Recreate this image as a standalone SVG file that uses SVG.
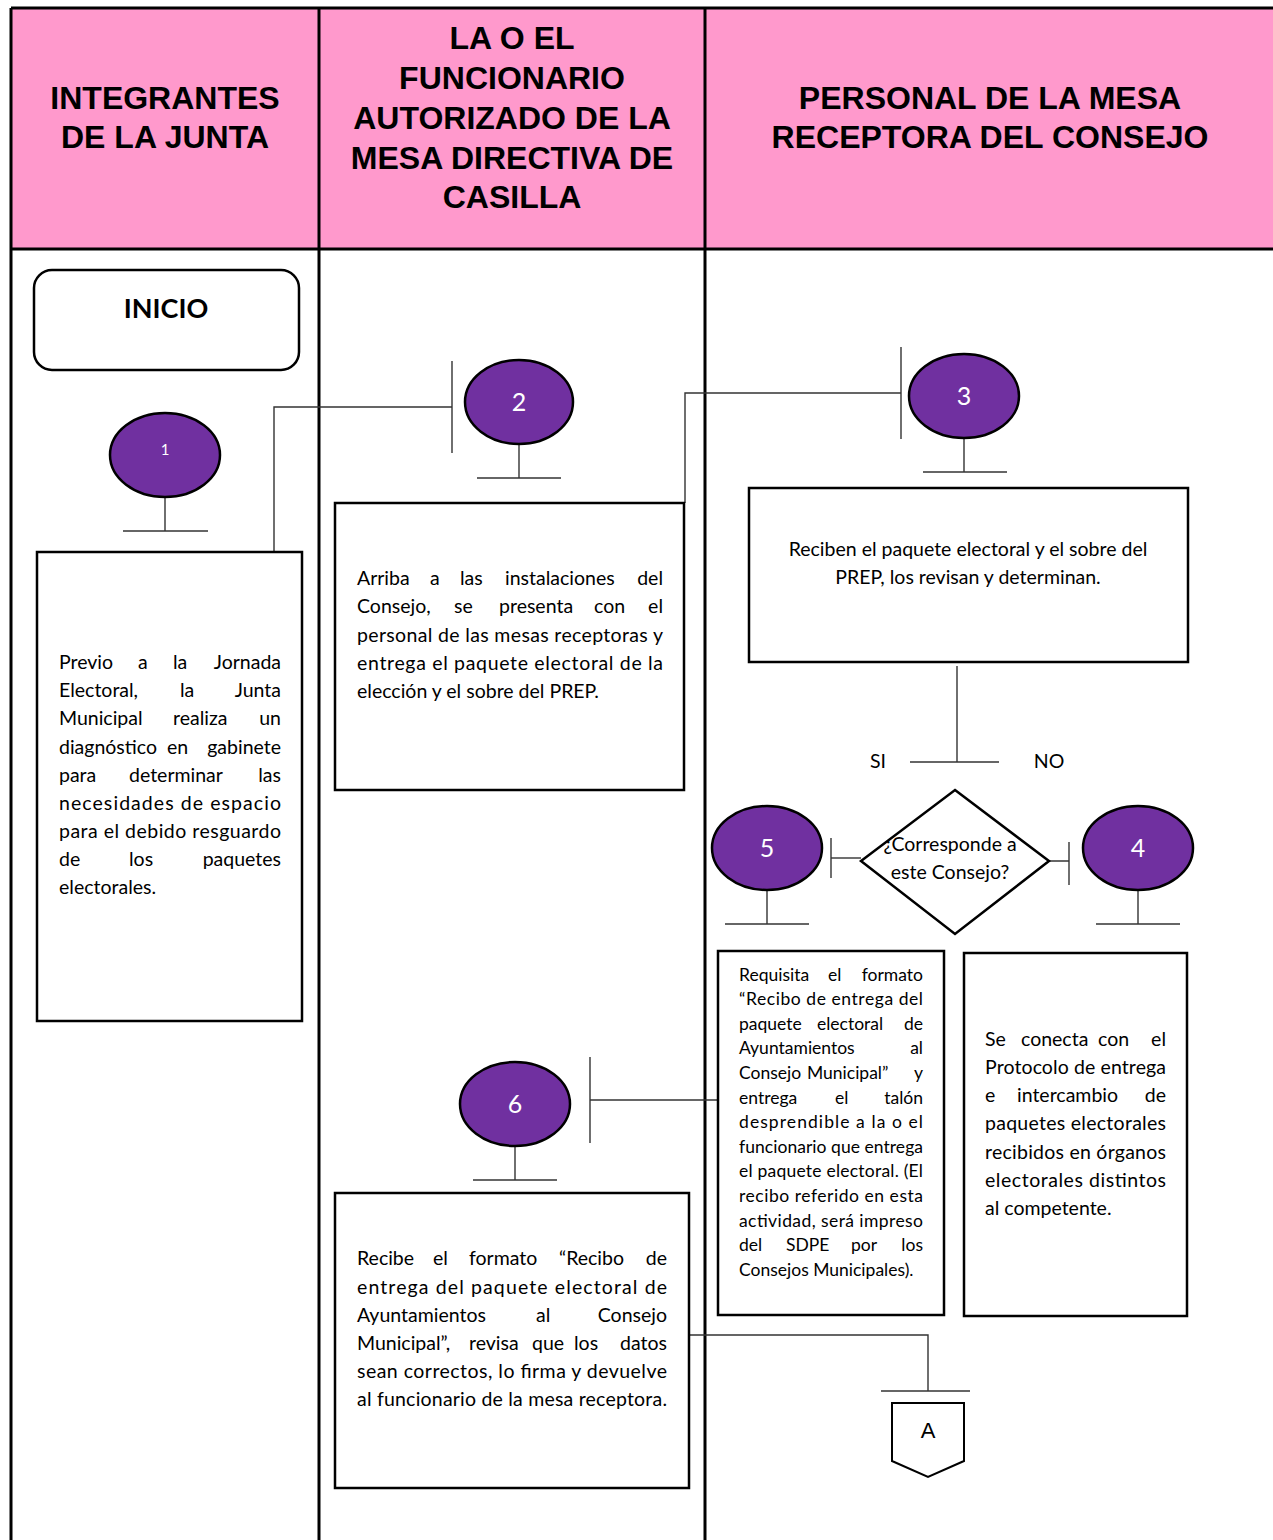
<svg xmlns="http://www.w3.org/2000/svg" width="1273" height="1540" viewBox="0 0 1273 1540">
<style>
.hdr{font-family:"Liberation Sans",Arial,sans-serif;font-weight:bold;font-size:32px;fill:#000;text-anchor:middle}
.t{font-family:Lato,"Liberation Sans",sans-serif;font-size:19.5px;fill:#000}
.ts{font-family:Lato,"Liberation Sans",sans-serif;font-size:17.5px;fill:#000}
.c{text-anchor:middle}
.box{fill:#fff;stroke:#000;stroke-width:2.5}
.circ{fill:#7030A0;stroke:#000;stroke-width:2.5}
.num{font-family:Lato,"Liberation Sans",sans-serif;font-size:25px;fill:#fff;text-anchor:middle}
.ln{fill:none;stroke:#333;stroke-width:1.4}
.lane{fill:none;stroke:#000;stroke-width:3}
</style>
<rect width="1273" height="1540" fill="#fff"/>
<g id="lanes">
<rect x="11" y="8" width="1270" height="241" fill="#FF99CC"/>
<line class="lane" x1="11" y1="8" x2="1273" y2="8"/>
<line class="lane" x1="11" y1="249" x2="1273" y2="249"/>
<line class="lane" x1="11" y1="8" x2="11" y2="1540"/>
<line class="lane" x1="319" y1="8" x2="319" y2="1540"/>
<line class="lane" x1="705" y1="8" x2="705" y2="1540"/>
<text class="hdr" x="165" y="109">INTEGRANTES</text>
<text class="hdr" x="165" y="148">DE LA JUNTA</text>
<text class="hdr" x="512" y="49">LA O EL</text>
<text class="hdr" x="512" y="89">FUNCIONARIO</text>
<text class="hdr" x="512" y="129">AUTORIZADO DE LA</text>
<text class="hdr" x="512" y="169">MESA DIRECTIVA DE</text>
<text class="hdr" x="512" y="208">CASILLA</text>
<text class="hdr" x="990" y="109">PERSONAL DE LA MESA</text>
<text class="hdr" x="990" y="148">RECEPTORA DEL CONSEJO</text>
</g>
<g id="connectors">
<line class="ln" x1="165" y1="497" x2="165" y2="531"/>
<line class="ln" x1="123" y1="531" x2="208" y2="531"/>
<polyline class="ln" points="274,552 274,407 452,407"/>
<line class="ln" x1="452" y1="361" x2="452" y2="453"/>
<line class="ln" x1="519" y1="444" x2="519" y2="478"/>
<line class="ln" x1="477" y1="478" x2="561" y2="478"/>
<polyline class="ln" points="685,503 685,393 901,393"/>
<line class="ln" x1="901" y1="347" x2="901" y2="439"/>
<line class="ln" x1="964" y1="438" x2="964" y2="472"/>
<line class="ln" x1="923" y1="472" x2="1007" y2="472"/>
<line class="ln" x1="957" y1="666" x2="957" y2="762"/>
<line class="ln" x1="910" y1="762" x2="999" y2="762"/>
<line class="ln" x1="831" y1="858" x2="861" y2="858"/>
<line class="ln" x1="831" y1="838" x2="831" y2="878"/>
<line class="ln" x1="1032" y1="861" x2="1069" y2="861"/>
<line class="ln" x1="1069" y1="842" x2="1069" y2="885"/>
<line class="ln" x1="767" y1="890" x2="767" y2="924"/>
<line class="ln" x1="725" y1="924" x2="809" y2="924"/>
<line class="ln" x1="1138" y1="890" x2="1138" y2="924"/>
<line class="ln" x1="1096" y1="924" x2="1180" y2="924"/>
<line class="ln" x1="718" y1="1100" x2="590" y2="1100"/>
<line class="ln" x1="590" y1="1057" x2="590" y2="1143"/>
<line class="ln" x1="515" y1="1146" x2="515" y2="1180"/>
<line class="ln" x1="473" y1="1180" x2="557" y2="1180"/>
<polyline class="ln" points="689,1335 928,1335 928,1391"/>
<line class="ln" x1="881" y1="1391" x2="970" y2="1391"/>
</g>
<g id="inicio">
<rect x="34" y="270" width="265" height="100" rx="18" fill="#fff" stroke="#000" stroke-width="2.5"/>
<text x="166" y="318" font-family="Lato,'Liberation Sans',sans-serif" font-weight="bold" font-size="27" text-anchor="middle">INICIO</text>
</g>
<g id="c1"><ellipse class="circ" cx="165" cy="455" rx="55" ry="42"/><text class="num" x="165" y="455" style="font-size:15px">1</text></g>
<g id="c2"><ellipse class="circ" cx="519" cy="402" rx="54" ry="42"/><text class="num" x="519" y="411">2</text></g>
<g id="c3"><ellipse class="circ" cx="964" cy="396" rx="55" ry="42"/><text class="num" x="964" y="405">3</text></g>
<g id="c5"><ellipse class="circ" cx="767" cy="848" rx="55" ry="42"/><text class="num" x="767" y="857">5</text></g>
<g id="c4"><ellipse class="circ" cx="1138" cy="848" rx="55" ry="42"/><text class="num" x="1138" y="857">4</text></g>
<g id="c6"><ellipse class="circ" cx="515" cy="1104" rx="55" ry="42"/><text class="num" x="515" y="1113">6</text></g>
<g id="box1">
<rect class="box" x="37" y="552" width="265" height="469"/>
<text class="t" y="669"><tspan x="59">Previo</tspan><tspan x="138">a</tspan><tspan x="173">la</tspan><tspan x="281" text-anchor="end">Jornada</tspan></text>
<text class="t" y="697"><tspan x="59">Electoral,</tspan><tspan x="180">la</tspan><tspan x="281" text-anchor="end">Junta</tspan></text>
<text class="t" y="725"><tspan x="59">Municipal</tspan><tspan x="173">realiza</tspan><tspan x="281" text-anchor="end">un</tspan></text>
<text class="t" y="754"><tspan x="59">diagnóstico</tspan><tspan x="167">en</tspan><tspan x="281" text-anchor="end">gabinete</tspan></text>
<text class="t" y="782"><tspan x="59">para</tspan><tspan x="129">determinar</tspan><tspan x="281" text-anchor="end">las</tspan></text>
<text class="t" x="59" y="810" textLength="222" lengthAdjust="spacing">necesidades de espacio</text>
<text class="t" x="59" y="838" textLength="222" lengthAdjust="spacing">para el debido resguardo</text>
<text class="t" y="866"><tspan x="59">de</tspan><tspan x="129">los</tspan><tspan x="281" text-anchor="end">paquetes</tspan></text>
<text class="t" x="59" y="894">electorales.</text>
</g>
<g id="box2">
<rect class="box" x="335" y="503" width="349" height="287"/>
<text class="t" y="585"><tspan x="357">Arriba</tspan><tspan x="430">a</tspan><tspan x="460">las</tspan><tspan x="505">instalaciones</tspan><tspan x="663" text-anchor="end">del</tspan></text>
<text class="t" y="613"><tspan x="357">Consejo,</tspan><tspan x="454">se</tspan><tspan x="499">presenta</tspan><tspan x="594">con</tspan><tspan x="663" text-anchor="end">el</tspan></text>
<text class="t" x="357" y="642" textLength="306" lengthAdjust="spacing">personal de las mesas receptoras y</text>
<text class="t" x="357" y="670" textLength="306" lengthAdjust="spacing">entrega el paquete electoral de la</text>
<text class="t" x="357" y="698">elección y el sobre del PREP.</text>
</g>
<g id="box3">
<rect class="box" x="749" y="488" width="439" height="174"/>
<text class="t c" x="968" y="556">Reciben el paquete electoral y el sobre del</text>
<text class="t c" x="968" y="584">PREP, los revisan y determinan.</text>
</g>
<g id="decision">
<polygon points="955,790 1049,861 955,934 861,861" fill="#fff" stroke="#000" stroke-width="2.5"/>
<text class="t c" x="950" y="851">¿Corresponde a</text>
<text class="t c" x="950" y="879">este Consejo?</text>
<text class="t c" x="878" y="768">SI</text>
<text class="t c" x="1049" y="768">NO</text>
</g>
<g id="box5">
<rect class="box" x="718" y="951" width="226" height="364"/>
<text class="ts" y="981"><tspan x="739">Requisita</tspan><tspan x="828">el</tspan><tspan x="923" text-anchor="end">formato</tspan></text>
<text class="ts" x="739" y="1005" textLength="184" lengthAdjust="spacing">“Recibo de entrega del</text>
<text class="ts" y="1030"><tspan x="739">paquete</tspan><tspan x="817">electoral</tspan><tspan x="923" text-anchor="end">de</tspan></text>
<text class="ts" y="1054"><tspan x="739">Ayuntamientos</tspan><tspan x="923" text-anchor="end">al</tspan></text>
<text class="ts" y="1079"><tspan x="739">Consejo</tspan><tspan x="807">Municipal”</tspan><tspan x="923" text-anchor="end">y</tspan></text>
<text class="ts" y="1104"><tspan x="739">entrega</tspan><tspan x="835">el</tspan><tspan x="923" text-anchor="end">talón</tspan></text>
<text class="ts" x="739" y="1128" textLength="184" lengthAdjust="spacing">desprendible a la o el</text>
<text class="ts" x="739" y="1153" textLength="184" lengthAdjust="spacing">funcionario que entrega</text>
<text class="ts" x="739" y="1177" textLength="184" lengthAdjust="spacing">el paquete electoral. (El</text>
<text class="ts" x="739" y="1202" textLength="184" lengthAdjust="spacing">recibo referido en esta</text>
<text class="ts" x="739" y="1227" textLength="184" lengthAdjust="spacing">actividad, será impreso</text>
<text class="ts" y="1251"><tspan x="739">del</tspan><tspan x="786">SDPE</tspan><tspan x="851">por</tspan><tspan x="923" text-anchor="end">los</tspan></text>
<text class="ts" x="739" y="1276">Consejos Municipales).</text>
</g>
<g id="box4">
<rect class="box" x="964" y="953" width="223" height="363"/>
<text class="t" y="1046"><tspan x="985">Se</tspan><tspan x="1021">conecta</tspan><tspan x="1098">con</tspan><tspan x="1166" text-anchor="end">el</tspan></text>
<text class="t" x="985" y="1074" textLength="181" lengthAdjust="spacing">Protocolo de entrega</text>
<text class="t" y="1102"><tspan x="985">e</tspan><tspan x="1017">intercambio</tspan><tspan x="1166" text-anchor="end">de</tspan></text>
<text class="t" x="985" y="1130" textLength="181" lengthAdjust="spacing">paquetes electorales</text>
<text class="t" x="985" y="1159" textLength="181" lengthAdjust="spacing">recibidos en órganos</text>
<text class="t" x="985" y="1187" textLength="181" lengthAdjust="spacing">electorales distintos</text>
<text class="t" x="985" y="1215">al competente.</text>
</g>
<g id="box6">
<rect class="box" x="335" y="1193" width="354" height="295"/>
<text class="t" y="1265"><tspan x="357">Recibe</tspan><tspan x="433">el</tspan><tspan x="469">formato</tspan><tspan x="559">“Recibo</tspan><tspan x="667" text-anchor="end">de</tspan></text>
<text class="t" x="357" y="1294" textLength="310" lengthAdjust="spacing">entrega del paquete electoral de</text>
<text class="t" y="1322"><tspan x="357">Ayuntamientos</tspan><tspan x="536">al</tspan><tspan x="667" text-anchor="end">Consejo</tspan></text>
<text class="t" y="1350"><tspan x="357">Municipal”,</tspan><tspan x="469">revisa</tspan><tspan x="532">que</tspan><tspan x="574">los</tspan><tspan x="667" text-anchor="end">datos</tspan></text>
<text class="t" x="357" y="1378" textLength="310" lengthAdjust="spacing">sean correctos, lo firma y devuelve</text>
<text class="t" x="357" y="1406" textLength="310" lengthAdjust="spacing">al funcionario de la mesa receptora.</text>
</g>
<g id="offpageA">
<polygon points="892,1403 964,1403 964,1461 928,1477 892,1461" fill="#fff" stroke="#000" stroke-width="2"/>
<text x="928" y="1438" font-family="'Liberation Sans',Arial,sans-serif" font-size="22" text-anchor="middle">A</text>
</g>
</svg>
